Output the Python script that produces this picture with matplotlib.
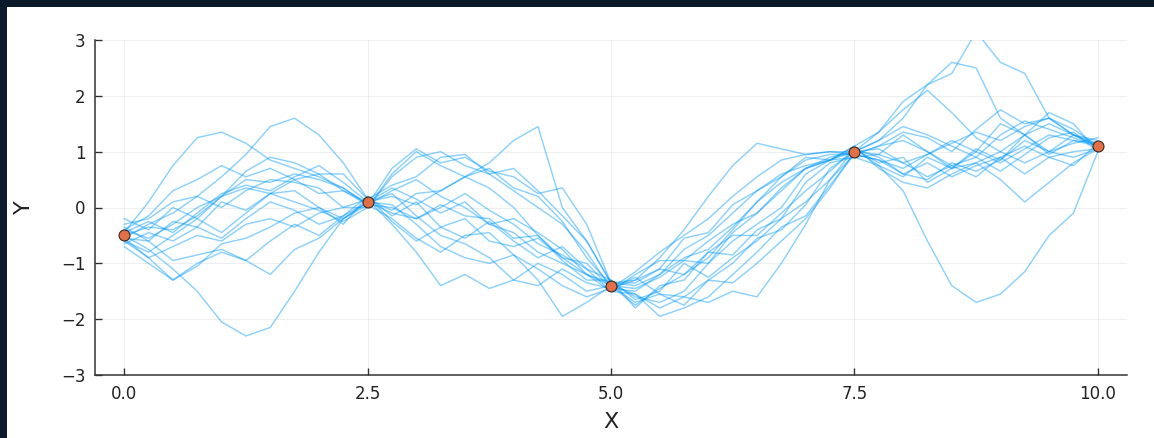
import numpy as np
import matplotlib
matplotlib.use("Agg")
import matplotlib.pyplot as plt
from matplotlib.patches import Rectangle

# ---- data ----
x_grid = [i * 0.25 for i in range(41)]

obs_x = [0.0, 2.5, 5.0, 7.5, 10.0]
obs_y = [-0.5, 0.1, -1.4, 1.0, 1.1]

sample_01 = [-0.45, 0.1, 0.75, 1.25, 1.35, 1.15, 0.85, 0.7, 0.55, 0.35, 0.05,
             0.3, 0.5, 0.2, 0.0, -0.3, -0.45, -0.8, -1.0, -1.2, -1.35,
             -1.3, -0.9, -0.4, 0.2, 0.75, 1.15, 1.05, 0.95, 1.0, 0.95,
             0.85, 0.7, 0.95, 1.2, 1.0, 0.8, 1.05, 1.3, 1.2, 1.15]
sample_02 = [-0.55, -0.3, -0.1, 0.2, 0.55, 0.95, 1.45, 1.6, 1.3, 0.8, 0.15,
             -0.05, 0.25, 0.3, 0.55, 0.8, 1.2, 1.45, 0.0, -0.6, -1.35,
             -1.6, -1.7, -1.5, -1.0, -0.45, -0.1, 0.3, 0.7, 0.85, 1.05,
             0.75, 0.3, -0.6, -1.4, -1.7, -1.55, -1.15, -0.5, -0.1, 1.0]
sample_03 = [-0.5, -0.75, -1.1, -1.5, -2.05, -2.3, -2.15, -1.5, -0.8, -0.2, 0.1,
             0.05, -0.3, -0.7, -0.9, -1.0, -0.85, -1.1, -1.4, -1.6, -1.45,
             -1.5, -1.2, -0.75, -0.5, -0.1, 0.3, 0.6, 0.75, 0.85, 1.0,
             1.2, 1.6, 2.2, 2.6, 2.5, 1.6, 1.3, 1.5, 1.3, 1.1]
sample_04 = [-0.4, -0.55, -0.3, 0.0, 0.2, 0.5, 0.45, 0.6, 0.5, 0.35, 0.05,
             0.0, -0.2, 0.05, -0.15, -0.2, -0.55, -0.5, -0.9, -1.2, -1.4,
             -1.75, -1.45, -1.2, -0.9, -0.4, 0.1, 0.45, 0.7, 0.85, 1.1,
             1.35, 1.9, 2.2, 2.4, 3.15, 2.6, 2.4, 1.6, 1.3, 1.2]
sample_05 = [-0.6, -0.9, -0.7, -0.5, -0.6, -0.3, -0.2, -0.35, -0.1, 0.0, 0.15,
             -0.3, -0.8, -1.4, -1.2, -1.45, -1.3, -1.0, -1.2, -1.5, -1.4,
             -1.7, -1.55, -1.6, -1.7, -1.5, -1.6, -1.0, -0.3, 0.5, 0.95,
             0.85, 0.6, 0.8, 0.55, 0.75, 0.9, 0.6, 0.9, 1.0, 1.05]
sample_06 = [-0.3, -0.2, 0.1, 0.2, 0.0, 0.3, 0.5, 0.45, 0.35, 0.0, 0.0,
             0.55, 0.9, 1.0, 0.75, 0.6, 0.3, 0.0, -0.3, -0.8, -1.45,
             -1.15, -0.8, -0.5, -0.2, 0.2, 0.55, 0.85, 0.95, 1.0, 1.0,
             1.2, 1.45, 1.3, 1.1, 0.9, 1.3, 1.55, 1.4, 1.25, 1.1]
sample_07 = [-0.5, -0.35, -0.4, -0.15, 0.2, 0.35, 0.25, 0.5, 0.6, 0.3, 0.1,
             0.2, 0.05, 0.3, 0.55, 0.35, 0.0, -0.5, -0.95, -1.3, -1.3,
             -1.8, -1.4, -1.3, -0.8, -0.5, -0.5, -0.1, 0.3, 0.65, 1.05,
             0.9, 0.6, 0.5, 0.8, 0.65, 0.85, 1.2, 1.0, 1.3, 1.15]
sample_08 = [-0.65, -0.45, -0.6, -0.35, -0.55, -0.2, 0.1, -0.05, -0.3, -0.15, 0.2,
             -0.15, 0.1, -0.35, -0.2, -0.6, -0.7, -0.55, -0.9, -1.0, -1.45,
             -1.3, -1.1, -1.2, -0.8, -0.85, -0.4, -0.2, 0.45, 0.8, 0.9,
             0.75, 0.55, 0.9, 0.7, 1.0, 1.5, 1.3, 1.0, 0.9, 1.05]
sample_09 = [-0.7, -1.0, -1.3, -1.0, -0.8, -0.95, -0.6, -0.3, -0.5, -0.15, 0.1,
             0.35, 0.15, -0.1, 0.1, -0.3, -0.2, -0.45, -0.75, -1.2, -1.5,
             -1.55, -1.8, -1.6, -1.3, -1.35, -1.0, -0.6, -0.2, 0.35, 1.0,
             1.05, 0.8, 0.55, 0.75, 0.9, 0.65, 0.95, 1.25, 1.35, 1.0]
sample_10 = [-0.55, -0.6, -0.95, -0.85, -0.75, -0.95, -1.2, -0.75, -0.55, -0.2, 0.05,
             -0.2, -0.55, -0.8, -0.5, -0.45, -0.85, -1.3, -1.95, -1.7, -1.4,
             -1.55, -1.95, -1.8, -1.6, -1.2, -0.8, -0.35, -0.15, 0.4, 0.95,
             1.1, 1.35, 1.25, 1.0, 1.4, 1.75, 1.5, 1.6, 1.3, 1.1]
sample_11 = [-0.2, -0.4, 0.0, -0.2, 0.2, 0.65, 0.9, 0.8, 0.6, 0.6, 0.15,
             0.4, 0.55, 0.9, 0.95, 0.6, 0.7, 0.3, -0.15, -0.6, -1.35,
             -1.35, -1.1, -0.55, -0.45, 0.05, 0.3, 0.55, 0.9, 0.85, 1.1,
             0.7, 0.45, 0.35, 0.6, 0.8, 0.5, 0.1, 0.45, 0.8, 1.05]
sample_12 = [-0.45, -0.25, -0.45, -0.1, 0.25, 0.4, 0.3, 0.55, 0.75, 0.45, 0.1,
             -0.1, -0.2, 0.0, 0.25, -0.05, -0.3, -0.65, -0.85, -1.1, -1.5,
             -1.2, -0.95, -0.95, -0.6, -0.3, -0.1, 0.35, 0.7, 0.9, 1.0,
             1.35, 1.75, 2.1, 1.7, 1.25, 1.0, 0.8, 1.0, 1.15, 1.25]
sample_13 = [-0.35, -0.6, -0.25, -0.35, 0.1, -0.05, 0.25, 0.1, -0.05, -0.25, 0.0,
             0.6, 1.0, 0.75, 0.55, 0.7, 0.35, 0.2, -0.25, -0.9, -1.4,
             -1.45, -1.25, -0.95, -1.0, -0.6, -0.3, 0.0, 0.6, 0.85, 0.9,
             0.95, 0.8, 0.95, 1.15, 1.35, 1.2, 1.45, 1.6, 1.4, 1.1]
sample_14 = [-0.6, -0.8, -0.5, -0.2, -0.45, -0.1, 0.25, 0.3, 0.0, -0.3, 0.2,
             -0.25, -0.6, -0.35, -0.55, -0.25, -0.6, -0.9, -0.7, -1.1, -1.3,
             -1.65, -1.5, -1.0, -1.25, -0.9, -0.6, -0.2, 0.1, 0.5, 1.05,
             0.8, 0.9, 0.45, 0.7, 1.05, 0.85, 1.3, 1.7, 1.5, 1.0]
sample_15 = [-0.55, -0.9, -1.3, -1.05, -0.65, -0.55, -0.35, -0.1, 0.0, -0.2, 0.1,
             0.25, -0.15, -0.5, -0.65, -0.9, -1.3, -1.4, -1.1, -1.35, -1.45,
             -1.25, -1.55, -1.75, -1.3, -1.0, -0.55, -0.4, 0.05, 0.7, 1.0,
             0.95, 1.3, 1.0, 0.75, 0.55, 0.9, 1.1, 0.9, 0.75, 1.15]
sample_16 = [-0.4, -0.15, 0.3, 0.5, 0.75, 0.55, 0.7, 0.5, 0.25, 0.3, 0.05,
             0.7, 1.05, 0.8, 0.9, 0.65, 0.55, 0.25, 0.35, -0.3, -1.35,
             -1.4, -1.2, -0.9, -0.75, -0.35, 0.1, 0.55, 0.85, 0.95, 0.95,
             1.1, 1.2, 1.0, 0.7, 0.8, 1.0, 1.3, 0.95, 1.2, 1.1]

samples = [sample_01, sample_02, sample_03, sample_04, sample_05, sample_06,
           sample_07, sample_08, sample_09, sample_10, sample_11, sample_12,
           sample_13, sample_14, sample_15, sample_16]

x_ticks = [0.0, 2.5, 5.0, 7.5, 10.0]
x_tick_labels = ["0.0", "2.5", "5.0", "7.5", "10.0"]
y_ticks = [-3, -2, -1, 0, 1, 2, 3]

# ---- figure ----
W, H = 1154, 438
fig = plt.figure(figsize=(W / 100, H / 100), dpi=100, facecolor="white")
dark = "#0a1a2b"
fig.patches.append(Rectangle((0, 1 - 7 / H), 1, 7 / H, transform=fig.transFigure,
                             facecolor=dark, edgecolor="none", zorder=0))
fig.patches.append(Rectangle((0, 0), 7 / W, 1, transform=fig.transFigure,
                             facecolor=dark, edgecolor="none", zorder=0))

ax = fig.add_axes([95 / W, 1 - 375 / H, (1127 - 95) / W, (375 - 40) / H])
ax.set_facecolor("white")

for s in samples:
    ax.plot(x_grid, s, color="#009AFA", alpha=0.45, linewidth=1.05, zorder=2)

ax.scatter(obs_x, obs_y, s=62, color="#E26F46", edgecolor="#3a2a20",
           linewidth=0.8, zorder=5)

ax.set_xlim(-0.3, 10.3)
ax.set_ylim(-3, 3)
ax.set_xticks(x_ticks)
ax.set_xticklabels(x_tick_labels)
ax.set_yticks(y_ticks)
ax.grid(True, color="black", alpha=0.08, linewidth=0.6)
ax.set_axisbelow(True)

for side in ["top", "right"]:
    ax.spines[side].set_visible(False)
for side in ["left", "bottom"]:
    ax.spines[side].set_color("#333333")
    ax.spines[side].set_linewidth(1.1)

ax.tick_params(direction="in", length=5, width=1, color="#333333",
               labelsize=12, labelcolor="#222222", pad=7)

ax.set_xlabel("X", fontsize=16, color="#222222", labelpad=7)
ax.set_ylabel("Y", fontsize=16, color="#222222", labelpad=19)

fig.savefig("out.png", dpi=100, facecolor="white")
